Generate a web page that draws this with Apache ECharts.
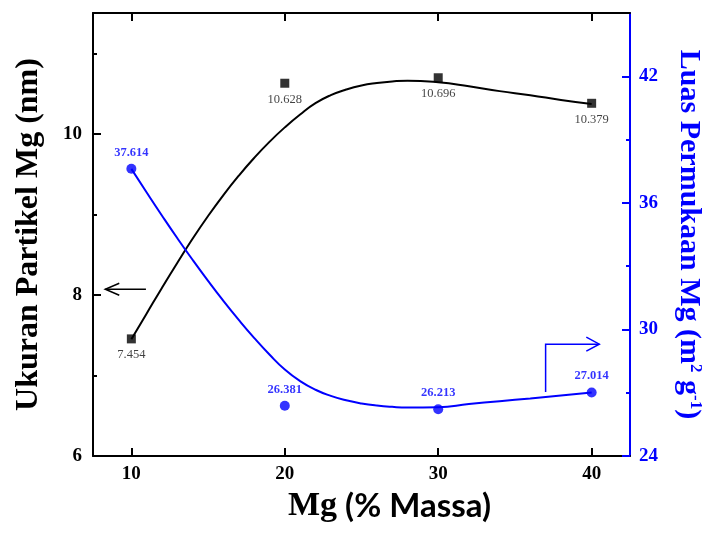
<!DOCTYPE html>
<html><head><meta charset="utf-8">
<script src="https://cdn.jsdelivr.net/npm/echarts@6/dist/echarts.min.js"></script>
<style>html,body{margin:0;padding:0;background:#fff}#c{width:712px;height:545px}</style>
</head><body><div id="c"></div>
<script>
// ---- data ----
const mgPercent = [10, 20, 30, 40];
const particleSize = [7.454, 10.628, 10.696, 10.379];
const surfaceArea = [37.614, 26.381, 26.213, 27.014];
// fitted curves
const fitX = [10,11,12,13,14,15,16,17,18,19,20,21,22,23,24,25,26,27,28,30,32,34,36,38,40];
const sizeFit = [7.45,7.77,8.09,8.40,8.70,8.98,9.24,9.48,9.70,9.90,10.08,10.24,10.38,10.48,10.55,10.60,10.63,10.65,10.66,10.64,10.59,10.53,10.48,10.42,10.37];
const areaFit = [37.61,36.49,35.39,34.32,33.29,32.30,31.35,30.45,29.60,28.81,28.10,27.55,27.14,26.85,26.64,26.49,26.39,26.33,26.30,26.31,26.46,26.60,26.73,26.87,27.01];
// ticks
const xTicks = [10, 20, 30, 40];
const sizeTicks = [6, 8, 10];
const sizeMinor = [7, 9, 11];
const areaTicks = [24, 30, 36, 42];
const areaMinor = [27, 33, 39];
// annotation arrows (data coords)
const sizeArrow = [[8.3, 8.07], [10.95, 8.07]];          // tip, tail (left axis)
const areaArrow = [[37, 27.03], [37, 29.3], [40.5, 29.3]]; // path, tip last (right axis)

const BLUE = '#0000ff';
const SERIF = 'Liberation Serif';

const chart = echarts.init(document.getElementById('c'));
const zip = (a, b) => a.map((v, i) => [v, b[i]]);

const tickLabel = (color) => ({fontFamily: SERIF, fontWeight: 'bold', fontSize: 19, color});

chart.setOption({
  animation: false,
  backgroundColor: '#fff',
  grid: {left: 93, right: 78, top: 13, bottom: 89, containLabel: false},
  xAxis: [{
    type: 'value', position: 'bottom', min: 7.5, max: 42.5,
    axisLine: {lineStyle: {color: '#000', width: 2}},
    axisTick: {inside: true, length: 8, customValues: xTicks, lineStyle: {color: '#000', width: 2}},
    axisLabel: Object.assign({customValues: xTicks, margin: 9}, tickLabel('#000')),
    splitLine: {show: false},
    name: '{s|Mg} {a|(% Massa)}', nameLocation: 'middle', nameGap: 27,
    nameTextStyle: {fontSize: 32, color: '#000', fontFamily: SERIF, fontWeight: 'bold',
      padding: [0, 0, 0, 56],
      rich: {s: {fontFamily: SERIF, fontWeight: 'bold', fontSize: 34, color: '#000'},
             a: {fontFamily: 'Lato', fontWeight: 'bold', fontSize: 33, color: '#000'}}}
  }, {
    type: 'value', position: 'top', min: 7.5, max: 42.5,
    axisLine: {lineStyle: {color: '#000', width: 2}},
    axisTick: {inside: true, length: 8, customValues: xTicks, lineStyle: {color: '#000', width: 2}},
    axisLabel: {show: false}, splitLine: {show: false}
  }],
  yAxis: [{
    type: 'value', position: 'left', min: 6, max: 11.5,
    axisLine: {show: true, lineStyle: {color: '#000', width: 2}},
    axisTick: {show: true, inside: true, length: 8, customValues: sizeTicks, lineStyle: {color: '#000', width: 2}},
    axisLabel: Object.assign({customValues: sizeTicks, margin: 11}, tickLabel('#000')),
    splitLine: {show: false},
    name: 'Ukuran Partikel Mg (nm)', nameLocation: 'middle', nameRotate: 90, nameGap: 48,
    nameTextStyle: {fontFamily: SERIF, fontWeight: 'bold', fontSize: 32, color: '#000'}
  }, {
    type: 'value', position: 'right', min: 24, max: 45,
    axisLine: {show: true, lineStyle: {color: BLUE, width: 2}},
    axisTick: {show: true, inside: true, length: 8, customValues: areaTicks, lineStyle: {color: BLUE, width: 2}},
    axisLabel: Object.assign({customValues: areaTicks, margin: 9}, tickLabel(BLUE)),
    splitLine: {show: false},
    name: 'Luas Permukaan Mg (m{sup|2} g{sup|-1})', nameLocation: 'middle', nameRotate: -90, nameGap: 44,
    nameTextStyle: {fontFamily: SERIF, fontWeight: 'bold', fontSize: 30, color: BLUE,
      rich: {sup: {fontFamily: SERIF, fontWeight: 'bold', fontSize: 17, color: BLUE, verticalAlign: 'top', lineHeight: 30}}}
  }, {
    type: 'value', position: 'left', min: 6, max: 11.5,
    axisLine: {show: false},
    axisTick: {show: true, inside: true, length: 4, customValues: sizeMinor, lineStyle: {color: '#000', width: 2}},
    axisLabel: {show: false}, splitLine: {show: false}
  }, {
    type: 'value', position: 'right', min: 24, max: 45,
    axisLine: {show: false},
    axisTick: {show: true, inside: true, length: 4, customValues: areaMinor, lineStyle: {color: BLUE, width: 2}},
    axisLabel: {show: false}, splitLine: {show: false}
  }],
  series: [{
    type: 'line', xAxisIndex: 0, yAxisIndex: 0, data: zip(fitX, sizeFit),
    smooth: 0.5, showSymbol: false, lineStyle: {color: '#000', width: 2}, z: 2
  }, {
    type: 'line', xAxisIndex: 0, yAxisIndex: 1, data: zip(fitX, areaFit),
    smooth: 0.5, showSymbol: false, lineStyle: {color: BLUE, width: 2}, z: 2
  }, {
    type: 'scatter', xAxisIndex: 0, yAxisIndex: 0, data: zip(mgPercent, particleSize),
    symbol: 'rect', symbolSize: 9, itemStyle: {color: '#000'}, z: 3,
    label: {show: true, position: 'bottom', distance: 5, fontFamily: SERIF, fontSize: 12.5, color: '#111',
      formatter: p => p.value[1].toFixed(3)}
  }, {
    type: 'scatter', xAxisIndex: 0, yAxisIndex: 1, data: zip(mgPercent, surfaceArea),
    symbol: 'circle', symbolSize: 10, itemStyle: {color: BLUE}, z: 3,
    label: {show: true, position: 'top', distance: 5, fontFamily: SERIF, fontWeight: 'bold', fontSize: 12.5, color: BLUE,
      formatter: p => p.value[1].toFixed(3)}
  }]
});

// annotation arrows
const toPx = (yi, p) => chart.convertToPixel({xAxisIndex: 0, yAxisIndex: yi}, p);
const st = (c) => ({stroke: c, lineWidth: 1.5, fill: null});
const t1 = toPx(0, sizeArrow[0]), e1 = toPx(0, sizeArrow[1]);
const p2 = areaArrow.map(p => toPx(1, p));
const t2 = p2[p2.length - 1];
chart.setOption({
  graphic: [
    {type: 'polyline', shape: {points: [e1, t1]}, style: st('#000'), z: 10},
    {type: 'polyline', shape: {points: [[t1[0] + 14, t1[1] - 6], t1, [t1[0] + 14, t1[1] + 6]]}, style: st('#000'), z: 10},
    {type: 'polyline', shape: {points: p2}, style: st(BLUE), z: 10},
    {type: 'polyline', shape: {points: [[t2[0] - 13, t2[1] - 7], t2, [t2[0] - 13, t2[1] + 7]]}, style: st(BLUE), z: 10}
  ]
});
</script>
</body></html>
